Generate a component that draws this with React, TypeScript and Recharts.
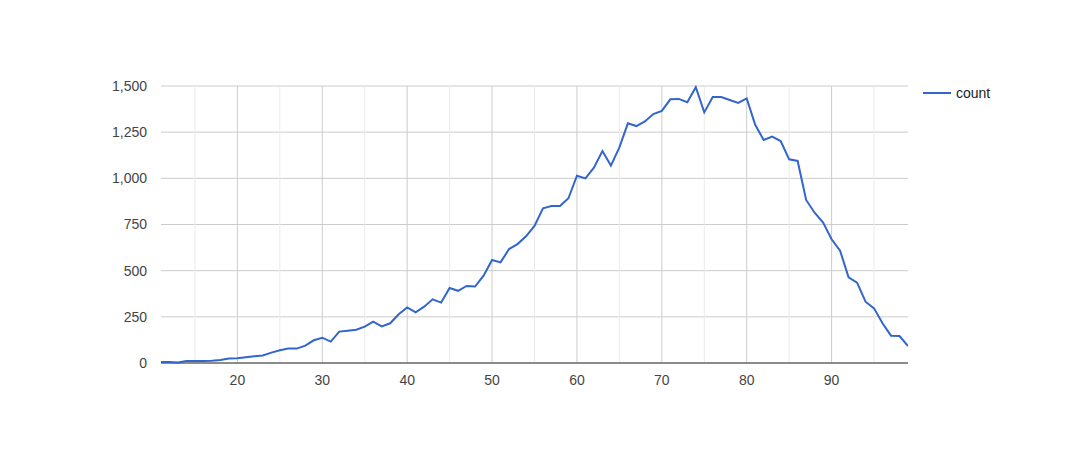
import React from 'react';
import { LineChart, Line, XAxis, YAxis, CartesianGrid, ReferenceLine } from 'recharts';

const xValues = [11,12,13,14,15,16,17,18,19,20,21,22,23,24,25,26,27,28,29,30,31,32,33,34,35,36,37,38,39,40,41,42,43,44,45,46,47,48,49,50,51,52,53,54,55,56,57,58,59,60,61,62,63,64,65,66,67,68,69,70,71,72,73,74,75,76,77,78,79,80,81,82,83,84,85,86,87,88,89,90,91,92,93,94,95,96,97,98,99];
const countValues = [5,5,3,11,11,11,12,16,24,26,31,36,41,56,69,78,78,94,123,137,116,170,175,180,197,224,198,215,264,301,274,305,345,327,406,391,417,414,473,558,545,617,644,686,742,838,850,850,892,1014,1000,1058,1148,1069,1168,1298,1283,1308,1348,1365,1428,1430,1412,1493,1357,1440,1440,1424,1408,1433,1290,1208,1226,1202,1103,1094,883,814,760,670,608,464,435,332,296,215,148,146,92];
const xTicks = [20,30,40,50,60,70,80,90];
const minorTicks = [15,25,35,45,55,65,75,85,95];
const yTicks = [0,250,500,750,1000,1250,1500];
const seriesName = 'count';

const data = xValues.map((x, i) => ({ x, count: countValues[i] }));

const fmt = (v: number) => v.toLocaleString('en-US');
const font = 'Arial, "Liberation Sans", sans-serif';

export default function App() {
  return (
    <div style={{ position: 'absolute', left: 0, top: 0, width: 1070, height: 450, background: '#fff' }}>
      <LineChart width={1070} height={450} data={data} margin={{ top: 86, right: 162, bottom: 0, left: 101 }}>
        <CartesianGrid vertical={false} stroke="#cccccc" />
        {minorTicks.map(t => (
          <ReferenceLine key={'m' + t} x={t} stroke="#ebebeb" strokeWidth={1} />
        ))}
        {xTicks.map(t => (
          <ReferenceLine key={'M' + t} x={t} stroke="#cccccc" strokeWidth={1} />
        ))}
        <XAxis
          dataKey="x"
          type="number"
          domain={[11, 99]}
          ticks={xTicks}
          allowDataOverflow
          axisLine={false}
          tickLine={false}
          tickSize={0}
          tickMargin={12}
          height={87}
          tick={{ fill: '#444444', fontSize: 14, fontFamily: font }}
        />
        <YAxis
          type="number"
          domain={[0, 1500]}
          ticks={yTicks}
          width={60}
          axisLine={false}
          tickLine={false}
          tickSize={0}
          tickMargin={14}
          tickFormatter={fmt}
          tick={{ fill: '#444444', fontSize: 14, fontFamily: font }}
        />
        <ReferenceLine y={0} stroke="#333333" strokeWidth={1} />
        <Line
          type="linear"
          dataKey="count"
          name={seriesName}
          stroke="#3366cc"
          strokeWidth={2}
          dot={false}
          activeDot={false}
          isAnimationActive={false}
        />
      </LineChart>
      <div style={{ position: 'absolute', left: 923, top: 84, display: 'flex', alignItems: 'center', fontFamily: font, fontSize: 14, color: '#222' }}>
        <svg width={33} height={18}>
          <line x1={0} x2={28} y1={9} y2={9} stroke="#3366cc" strokeWidth={2} />
        </svg>
        <span>{seriesName}</span>
      </div>
    </div>
  );
}
